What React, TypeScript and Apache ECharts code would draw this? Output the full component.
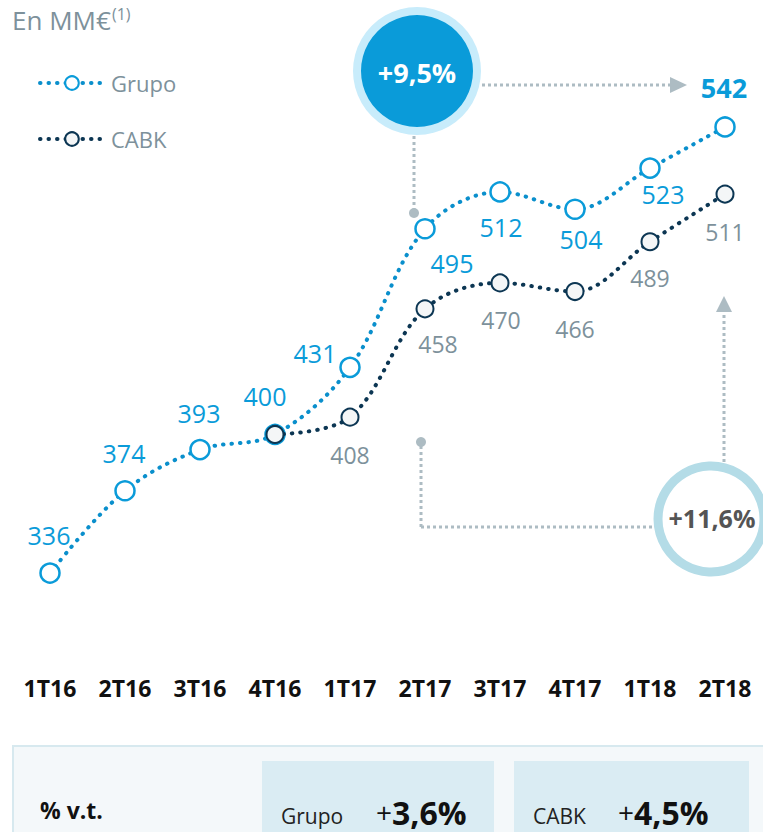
import React, { useEffect, useRef } from "react";
import * as echarts from "echarts";

const categories = ["1T16", "2T16", "3T16", "4T16", "1T17", "2T17", "3T17", "4T17", "1T18", "2T18"];
const grupo = [336, 374, 393, 400, 431, 495, 512, 504, 523, 542];
const cabk: (number | null)[] = [null, null, null, 400, 408, 458, 470, 466, 489, 511];
const grupoLabelOffsets = [[-1, -38], [-1, -38], [-1, -37], [-10, -38], [-35, -14], [27, 34], [1, 35], [6, 30], [13, 26], [-1, -39]];
const cabkLabelOffsets: (number[] | null)[] = [null, null, null, null, [0, 38], [13, 35], [1, 37], [0, 37], [0, 36], [0, 38]];
const growthGrupo = "+9,5%";
const growthCabk = "+11,6%";
const qoqGrupo = "3,6%";
const qoqCabk = "4,5%";

const FONT = "Open Sans";
const BLUE = "#0a9bd9";
const NAVY = "#0c3653";
const GREY_TXT = "#7d919b";
const ANN = "#adbcc3";

export default function App() {
  const ref = useRef<HTMLDivElement>(null);
  useEffect(() => {
    if (!ref.current) return;
    const chart = echarts.init(ref.current, null, { renderer: "svg" });

    const grupoData = grupo.map((v, i) => ({
      value: v,
      label: {
        show: true,
        position: "inside",
        offset: grupoLabelOffsets[i],
        fontWeight: i === grupo.length - 1 ? "bold" : "normal",
        fontSize: i === grupo.length - 1 ? 27 : 25,
      },
    }));
    const cabkData = cabk.map((v, i) => ({
      value: v,
      label: cabkLabelOffsets[i]
        ? { show: true, position: "inside", offset: cabkLabelOffsets[i] }
        : { show: false },
    }));

    const dotted = (color: string) => ({
      color,
      width: 4,
      type: [0.5, 8] as any,
      cap: "round" as any,
    });

    const dashLine = (x1: number, y1: number, x2: number, y2: number) => ({
      type: "line",
      shape: { x1, y1, x2, y2 },
      style: { stroke: ANN, lineWidth: 3, lineDash: [3, 3] },
      z: 1,
    });

    const cell = (label: string, x: number, xVal: number, val: string) => [
      {
        type: "text",
        x,
        y: 816,
        style: { text: label, font: `21px '${FONT}'`, fill: "#222", verticalAlign: "middle" },
        z: 3,
      },
      {
        type: "text",
        x: xVal,
        y: 812,
        style: {
          text: `{p|+}{b|${val}}`,
          verticalAlign: "middle",
          rich: {
            p: { fontFamily: FONT, fontSize: 28, fill: "#111" },
            b: { fontFamily: FONT, fontSize: 32, fontWeight: "bold", fill: "#111" },
          },
        },
        z: 3,
      },
    ];

    chart.setOption({
      animation: false,
      textStyle: { fontFamily: FONT },
      grid: { left: 12.5, right: 0.5, top: 88, height: 563 },
      xAxis: {
        type: "category",
        data: categories,
        axisLine: { show: false },
        axisTick: { show: false },
        axisLabel: { fontFamily: FONT, fontWeight: "bold", fontSize: 23, color: "#111", margin: 25 },
      },
      yAxis: { type: "value", min: 300, max: 560, show: false, splitLine: { show: false } },
      legend: {
        orient: "vertical",
        left: 33,
        top: 66,
        itemWidth: 64,
        itemHeight: 17,
        itemGap: 32,
        lineStyle: { width: 4, type: [0.5, 8] as any, cap: "round" as any },
        textStyle: { fontFamily: FONT, fontSize: 22, color: GREY_TXT, lineHeight: 24, padding: [0, 0, 0, 2] },
        data: ["Grupo", "CABK"],
      },
      series: [
        {
          name: "Grupo",
          type: "line",
          smooth: 0.35,
          data: grupoData,
          symbol: "circle",
          symbolSize: 19,
          lineStyle: dotted("#0a8fcc"),
          itemStyle: { color: "#ffffff", borderColor: BLUE, borderWidth: 2.5 },
          label: { color: BLUE, fontFamily: FONT, fontSize: 25 },
          z: 3,
        },
        {
          name: "CABK",
          type: "line",
          smooth: 0.35,
          data: cabkData,
          symbol: "circle",
          symbolSize: 17,
          lineStyle: dotted(NAVY),
          itemStyle: { color: "#f4f6f7", borderColor: NAVY, borderWidth: 2 },
          label: { color: GREY_TXT, fontFamily: FONT, fontSize: 23 },
          z: 4,
        },
      ],
      graphic: [
        {
          type: "text",
          left: 12,
          top: 7,
          style: { text: "En MM€", font: `26px '${FONT}'`, fill: GREY_TXT },
        },
        {
          type: "text",
          left: 112,
          top: 6,
          style: { text: "(1)", font: `16px '${FONT}'`, fill: GREY_TXT },
        },
        // +9,5% annotation
        dashLine(414, 136, 414, 210),
        { type: "circle", shape: { cx: 414, cy: 213, r: 5 }, style: { fill: ANN }, z: 2 },
        dashLine(482, 85, 672, 85),
        { type: "polygon", shape: { points: [[670, 77], [687, 85], [670, 93]] }, style: { fill: ANN }, z: 2 },
        { type: "circle", shape: { cx: 417, cy: 71, r: 64 }, style: { fill: "#c8ecfb" }, z: 5 },
        { type: "circle", shape: { cx: 417, cy: 71, r: 56 }, style: { fill: BLUE }, z: 6 },
        {
          type: "text",
          x: 417,
          y: 72,
          style: {
            text: growthGrupo,
            font: `bold 27px '${FONT}'`,
            fill: "#ffffff",
            align: "center",
            verticalAlign: "middle",
          },
          z: 7,
        },
        // +11,6% annotation
        { type: "circle", shape: { cx: 421, cy: 442, r: 5 }, style: { fill: ANN }, z: 2 },
        dashLine(421, 446, 421, 527),
        dashLine(421, 527, 656, 527),
        dashLine(724, 462, 724, 310),
        { type: "polygon", shape: { points: [[716, 312], [724, 296], [732, 312]] }, style: { fill: ANN }, z: 2 },
        {
          type: "circle",
          shape: { cx: 711, cy: 519, r: 53 },
          style: { fill: "#ffffff", stroke: "#b4dce7", lineWidth: 9 },
          z: 5,
        },
        {
          type: "text",
          x: 712,
          y: 518,
          style: {
            text: growthCabk,
            font: `bold 25px '${FONT}'`,
            fill: "#545454",
            align: "center",
            verticalAlign: "middle",
          },
          z: 7,
        },
        // bottom table
        {
          type: "rect",
          shape: { x: 13, y: 746, width: 760, height: 100 },
          style: { fill: "#f4f8fa", stroke: "#d7e9ef", lineWidth: 2 },
          z: 1,
        },
        { type: "rect", shape: { x: 262, y: 761, width: 232, height: 80 }, style: { fill: "#daecf3" }, z: 2 },
        { type: "rect", shape: { x: 514, y: 761, width: 235, height: 80 }, style: { fill: "#daecf3" }, z: 2 },
        {
          type: "text",
          x: 40,
          y: 810,
          style: { text: "% v.t.", font: `bold 23px '${FONT}'`, fill: "#111", verticalAlign: "middle" },
          z: 3,
        },
        ...cell("Grupo", 281, 376, qoqGrupo),
        ...cell("CABK", 533, 618, qoqCabk),
      ],
    });
    return () => chart.dispose();
  }, []);
  return (
    <div
      ref={ref}
      style={{ position: "absolute", left: 0, top: 0, width: 763, height: 832, background: "#fff" }}
    />
  );
}
